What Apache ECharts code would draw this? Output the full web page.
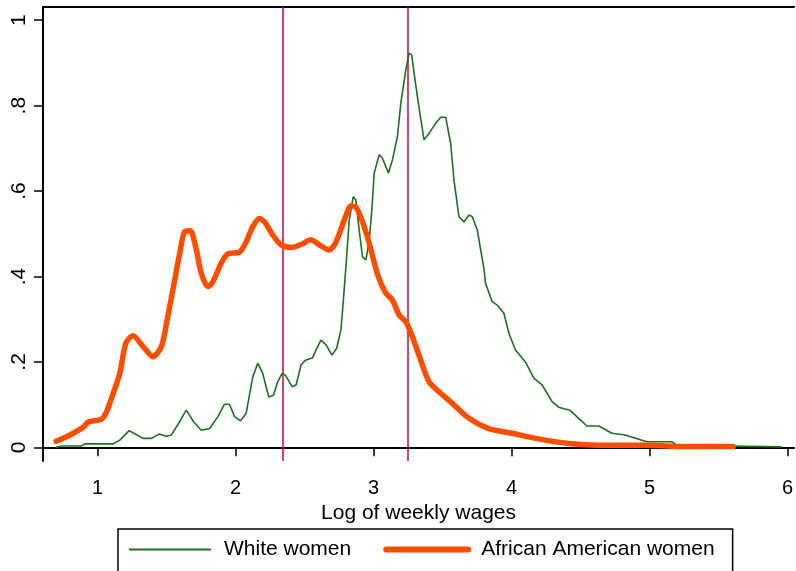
<!DOCTYPE html>
<html>
<head>
<meta charset="utf-8">
<script src="https://cdn.jsdelivr.net/npm/echarts@6/dist/echarts.min.js"></script>
<style>
html,body{margin:0;padding:0;background:#fff;}
#chart{width:796px;height:571px;}
</style>
</head>
<body>
<div id="chart"></div>
<script>
// Log of weekly wages (x) and density (y)
var whiteX = [0.699, 0.74, 0.884, 0.908, 1.113, 1.161, 1.229, 1.33, 1.39, 1.445,
  1.499, 1.535, 1.595, 1.643, 1.696, 1.752, 1.812, 1.872, 1.92, 1.956,
  1.993, 2.036, 2.077, 2.125, 2.161, 2.197, 2.241, 2.275, 2.306, 2.338,
  2.361, 2.41, 2.439, 2.475, 2.506, 2.559, 2.583, 2.619, 2.656, 2.699,
  2.733, 2.764, 2.776, 2.80, 2.824, 2.853, 2.872, 2.896, 2.920, 2.945,
  2.969, 2.988, 3.005, 3.041, 3.065, 3.108, 3.137, 3.173, 3.198, 3.234,
  3.258, 3.277, 3.301, 3.325, 3.366, 3.402, 3.451, 3.487, 3.523, 3.559,
  3.583, 3.619, 3.656, 3.692, 3.716, 3.752, 3.777, 3.80, 3.812, 3.86,
  3.896, 3.945, 3.981, 4.029, 4.101, 4.162, 4.222, 4.294, 4.342, 4.427,
  4.487, 4.547, 4.632, 4.728, 4.824, 4.981, 5.162, 5.198, 5.957];
var whiteY = [0, 0.003, 0.003, 0.008, 0.008, 0.017, 0.039, 0.021, 0.021, 0.031,
  0.026, 0.029, 0.06, 0.087, 0.06, 0.04, 0.044, 0.072, 0.101, 0.101,
  0.072, 0.062, 0.08, 0.165, 0.197, 0.173, 0.118, 0.122, 0.154, 0.173,
  0.169, 0.142, 0.146, 0.193, 0.204, 0.21, 0.228, 0.251, 0.24, 0.216,
  0.232, 0.275, 0.322, 0.423, 0.532, 0.587, 0.579, 0.509, 0.446, 0.439,
  0.485, 0.556, 0.642, 0.685, 0.677, 0.642, 0.673, 0.727, 0.806, 0.884,
  0.923, 0.919, 0.86, 0.806, 0.72, 0.735, 0.759, 0.773, 0.773, 0.712,
  0.626, 0.54, 0.528, 0.544, 0.54, 0.509, 0.462, 0.419, 0.384, 0.341,
  0.333, 0.314, 0.267, 0.228, 0.2, 0.162, 0.146, 0.107, 0.094, 0.086,
  0.068, 0.05, 0.05, 0.033, 0.029, 0.013, 0.013, 0.005, 0.001];
var afX = [0.70, 0.80, 0.896, 0.932, 1.029, 1.065, 1.101, 1.161, 1.205, 1.257,
  1.33, 1.402, 1.463, 1.511, 1.559, 1.595, 1.631, 1.672, 1.716, 1.752,
  1.80, 1.836, 1.896, 1.944, 2.029, 2.077, 2.125, 2.173, 2.21, 2.27,
  2.33, 2.403, 2.475, 2.547, 2.607, 2.679, 2.728, 2.788, 2.836, 2.872,
  2.92, 2.969, 3.029, 3.089, 3.137, 3.186, 3.234, 3.282, 3.342, 3.402,
  3.475, 3.571, 3.692, 3.836, 4.005, 4.174, 4.415, 4.632, 4.969, 5.21, 5.607];
var afY = [0.014, 0.029, 0.047, 0.059, 0.066, 0.083, 0.115, 0.173, 0.244, 0.261,
  0.236, 0.212, 0.236, 0.31, 0.392, 0.454, 0.505, 0.507, 0.462, 0.407,
  0.376, 0.388, 0.431, 0.453, 0.457, 0.481, 0.517, 0.536, 0.528, 0.497,
  0.474, 0.468, 0.475, 0.486, 0.474, 0.462, 0.481, 0.532, 0.565, 0.563,
  0.528, 0.478, 0.405, 0.361, 0.345, 0.31, 0.294, 0.259, 0.204, 0.154,
  0.13, 0.103, 0.068, 0.044, 0.033, 0.021, 0.009, 0.005, 0.005, 0.002, 0.002];
var cutoffs = [2.338, 3.253];
var xTicks = [1, 2, 3, 4, 5, 6];
var yTicks = [0, 0.2, 0.4, 0.6, 0.8, 1];
var seriesNames = ['White women', 'African American women'];
var xTitle = 'Log of weekly wages';

function pairs(xs, ys) { return xs.map(function (x, i) { return [x, ys[i]]; }); }

var FONT = '"Liberation Sans", Arial, sans-serif';
var GREEN = '#1a721a', ORANGE = '#ff4d00', CRIMSON = '#c8174f';
var chart = echarts.init(document.getElementById('chart'), null, { renderer: 'canvas' });
chart.setOption({
  animation: false,
  backgroundColor: '#ffffff',
  grid: { left: 43, right: 0, top: 7, bottom: 110, containLabel: false },
  xAxis: [{
    type: 'value', min: 0.6045, max: 6.048,
    name: xTitle, nameLocation: 'middle', nameGap: 37,
    nameTextStyle: { fontFamily: FONT, fontSize: 21, color: '#000' },
    axisLine: { show: true, lineStyle: { color: '#000', width: 2 } },
    axisTick: { show: true, customValues: xTicks, length: 9, lineStyle: { color: '#000', width: 1.5 } },
    axisLabel: { show: true, customValues: xTicks, margin: 17, fontFamily: FONT, fontSize: 20, color: '#000' },
    splitLine: { show: false }
  }, {
    type: 'value', position: 'top', min: 0.6045, max: 6.048,
    axisLine: { show: true, lineStyle: { color: '#000', width: 2 } },
    axisTick: { show: false }, axisLabel: { show: false }, splitLine: { show: false }
  }],
  yAxis: {
    type: 'value', min: -0.032, max: 1.031,
    axisLine: { show: true, lineStyle: { color: '#000', width: 2 } },
    axisTick: { show: true, customValues: yTicks, length: 9, lineStyle: { color: '#000', width: 1.5 } },
    axisLabel: {
      show: true, customValues: yTicks, rotate: 90, margin: 13,
      fontFamily: FONT, fontSize: 21, color: '#000',
      formatter: function (v) { return v === 0 ? '0' : (v === 1 ? '1' : String(+v.toFixed(1)).replace(/^0/, '')); }
    },
    splitLine: { show: false }
  },
  legend: {
    left: 118, top: 529,
    padding: [10, 18, 40, 10],
    borderColor: '#000', borderWidth: 1.5,
    itemWidth: 82, itemHeight: 14, itemGap: 32,
    itemStyle: { opacity: 0 },
    textStyle: { fontFamily: FONT, fontSize: 21, color: '#000', padding: [0, 0, 0, 8] },
    data: [
      { name: seriesNames[0], lineStyle: { width: 2 } },
      { name: seriesNames[1], lineStyle: { width: 6, cap: 'round' } }
    ]
  },
  series: [{
    name: seriesNames[0], type: 'line', z: 3,
    data: pairs(whiteX, whiteY),
    showSymbol: false,
    lineStyle: { color: GREEN, width: 1.6 },
    itemStyle: { color: GREEN },
    markLine: {
      silent: true, symbol: ['none', 'none'], z: 1,
      label: { show: false },
      lineStyle: { color: CRIMSON, width: 1.6, type: 'solid' },
      data: cutoffs.map(function (c) { return { xAxis: c }; })
    }
  }, {
    name: seriesNames[1], type: 'line', z: 4,
    data: pairs(afX, afY),
    showSymbol: false, smooth: 0.25,
    lineStyle: { color: ORANGE, width: 5.5, cap: 'round', join: 'round' },
    itemStyle: { color: ORANGE }
  }]
});
</script>
</body>
</html>
